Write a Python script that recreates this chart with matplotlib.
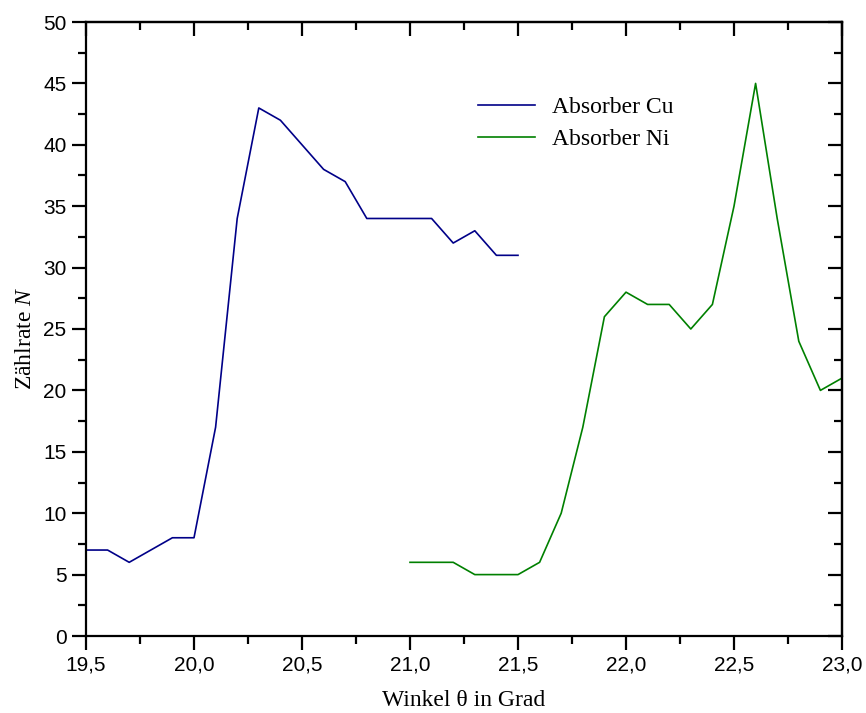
import matplotlib
matplotlib.use("Agg")
import matplotlib.pyplot as plt
from matplotlib.ticker import MultipleLocator, FuncFormatter


# Messwerte: Winkel in Grad und Zählrate
theta_cu = [19.5, 19.6, 19.7, 19.8, 19.9, 20.0, 20.1, 20.2, 20.3, 20.4, 20.5,
            20.6, 20.7, 20.8, 20.9, 21.0, 21.1, 21.2, 21.3, 21.4, 21.5]
rate_cu = [7, 7, 6, 7, 8, 8, 17, 34, 43, 42, 40,
           38, 37, 34, 34, 34, 34, 32, 33, 31, 31]

theta_ni = [21.0, 21.1, 21.2, 21.3, 21.4, 21.5, 21.6, 21.7, 21.8, 21.9, 22.0,
            22.1, 22.2, 22.3, 22.4, 22.5, 22.6, 22.7, 22.8, 22.9, 23.0]
rate_ni = [6, 6, 6, 5, 5, 5, 6, 10, 17, 26, 28,
           27, 27, 25, 27, 35, 45, 34, 24, 20, 21]

labels = ["Absorber Cu", "Absorber Ni"]
colors = ["#000088", "#008000"]

plt.rcParams["mathtext.fontset"] = "custom"
plt.rcParams["mathtext.rm"] = "Liberation Serif"
plt.rcParams["mathtext.it"] = "Liberation Serif:italic"

fig = plt.figure(figsize=(8.66, 7.13), dpi=100)
ax = fig.add_axes([86 / 866, 1 - 636 / 713, 756 / 866, 614 / 713])

ax.plot(theta_cu, rate_cu, color=colors[0], lw=1.2, label=labels[0])
ax.plot(theta_ni, rate_ni, color=colors[1], lw=1.2, label=labels[1])

ax.set_xlim(19.5, 23.0)
ax.set_ylim(0, 50)

ax.xaxis.set_major_locator(MultipleLocator(0.5))
ax.xaxis.set_minor_locator(MultipleLocator(0.25))
ax.yaxis.set_major_locator(MultipleLocator(5))
ax.yaxis.set_minor_locator(MultipleLocator(2.5))
ax.xaxis.set_major_formatter(FuncFormatter(lambda v, p: f"{v:.1f}".replace(".", ",")))
ax.yaxis.set_major_formatter(FuncFormatter(lambda v, p: f"{v:.0f}"))

for s in ax.spines.values():
    s.set_linewidth(1.6)

ax.tick_params(which="major", direction="out", length=10, width=1.6,
               labelsize=15, pad=4)
ax.tick_params(which="minor", direction="out", length=6, width=1.6)
for lab in ax.get_xticklabels() + ax.get_yticklabels():
    lab.set_fontfamily("Liberation Sans")

# Gegenachsen oben und rechts mit Ticks nach innen
top = ax.secondary_xaxis("top")
top.xaxis.set_major_locator(MultipleLocator(0.5))
top.xaxis.set_minor_locator(MultipleLocator(0.25))
top.tick_params(which="major", direction="in", length=10, width=1.6, labeltop=False)
top.tick_params(which="minor", direction="in", length=6, width=1.6)
top.spines["top"].set_linewidth(1.6)

right = ax.secondary_yaxis("right")
right.yaxis.set_major_locator(MultipleLocator(5))
right.yaxis.set_minor_locator(MultipleLocator(2.5))
right.tick_params(which="major", direction="in", length=10, width=1.6, labelright=False)
right.tick_params(which="minor", direction="in", length=6, width=1.6)
right.spines["right"].set_linewidth(1.6)

ax.set_xlabel("Winkel θ in Grad", fontfamily="Liberation Serif",
              fontsize=17, labelpad=11)
ax.set_ylabel(r"Zählrate $N$", fontfamily="Liberation Serif",
              fontsize=17, labelpad=5)
ax.yaxis.label.set_y(0.485)

ax.legend(loc="upper left", bbox_to_anchor=(0.518, 0.878), frameon=False,
          borderpad=0, borderaxespad=0,
          prop={"family": "Liberation Serif", "size": 17},
          handlelength=2.45, handletextpad=0.7, labelspacing=0.42)

fig.savefig("out.png", dpi=100)
